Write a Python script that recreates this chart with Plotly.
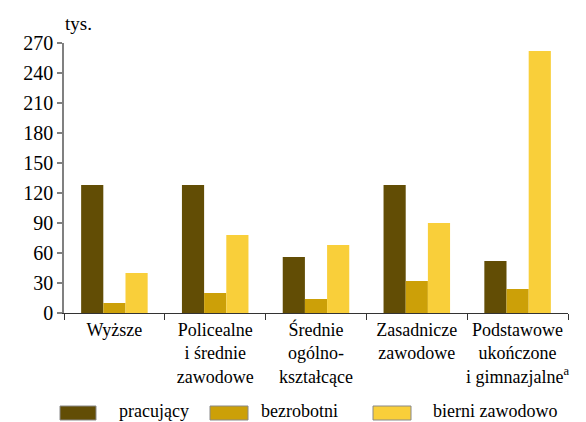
import plotly.graph_objects as go

categories = [
    "Wyższe",
    "Policealne<br>i średnie<br>zawodowe",
    "Średnie<br>ogólno-<br>kształcące",
    "Zasadnicze<br>zawodowe",
    "Podstawowe<br>ukończone<br>i gimnazjalne<sup>a</sup>",
]
pracujacy = [128, 128, 56, 128, 52]
bezrobotni = [10, 20, 14, 32, 24]
bierni = [40, 78, 68, 90, 262]

series = [
    ("pracujący", pracujacy, "#624D05"),
    ("bezrobotni", bezrobotni, "#CCA008"),
    ("bierni zawodowo", bierni, "#F9CF3A"),
]

W, H = 586, 422
L, R, T, B = 64, 18, 43, 109
FONT = "Liberation Serif, Tinos, DejaVu Serif, serif"


def px(x):
    return (x - L) / (W - L - R)


def py(y):
    return (H - B - y) / (H - T - B)


fig = go.Figure()
for name, vals, color in series:
    fig.add_trace(go.Bar(x=categories, y=vals, name=name, marker_color=color,
                         marker_line_width=0, showlegend=False))

fig.update_layout(
    width=W, height=H,
    margin=dict(l=L, r=R, t=T, b=B, autoexpand=False),
    barmode="group", bargap=0.34, bargroupgap=0,
    plot_bgcolor="white", paper_bgcolor="white",
    font=dict(family=FONT, color="black"),
)
fig.update_yaxes(
    range=[0, 270], tickvals=list(range(0, 271, 30)), showgrid=False,
    showline=True, linecolor="#808080", linewidth=1.5,
    ticks="outside", ticklen=5, tickcolor="#808080", tickwidth=1.5,
    tickfont=dict(size=20, family=FONT), zeroline=False, automargin=False,
)
fig.update_xaxes(
    showline=True, linecolor="#333333", linewidth=1.2,
    ticks="outside", ticklen=6, tickcolor="#333333", tickson="boundaries",
    tickfont=dict(size=18, family=FONT), showgrid=False,
    tickangle=0, automargin=False,
)

fig.add_annotation(text="tys.", x=px(63), y=py(24), xref="paper", yref="paper",
                   xanchor="left", yanchor="middle", showarrow=False,
                   font=dict(size=19, family=FONT))

# legend drawn as keys + labels below the plot
legend_pos = [(60, 96, 117), (210, 248, 259), (373, 411, 431)]
for (name, _, color), (x0, x1, tx) in zip(series, legend_pos):
    fig.add_shape(type="rect", xref="paper", yref="paper",
                  x0=px(x0), x1=px(x1), y0=py(420), y1=py(406),
                  fillcolor=color, line=dict(color="#888888", width=1))
    fig.add_annotation(text=name, x=px(tx), y=py(411), xref="paper", yref="paper",
                       xanchor="left", yanchor="middle", showarrow=False,
                       font=dict(size=18, family=FONT))

fig.write_html("out.html", config={"displayModeBar": False},
               post_script="document.body.style.margin='0';")
